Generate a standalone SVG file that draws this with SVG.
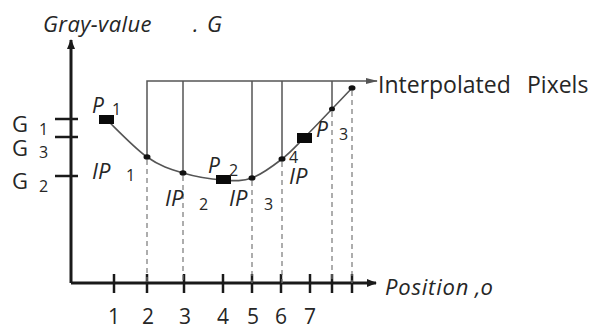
<svg xmlns="http://www.w3.org/2000/svg" width="591" height="329" viewBox="0 0 591 329">
<style>
.t{font-family:"Open Sans","Liberation Sans",sans-serif;fill:#262626}
.i{font-style:italic}
.s{font-size:16px}
.ax{stroke:#1a1a1a;stroke-width:3;fill:none}
.tk{stroke:#1a1a1a;stroke-width:2.5}
.vl{stroke:#555;stroke-width:1.5;fill:none}
.dl{stroke:#777;stroke-width:1.2;stroke-dasharray:5 4;fill:none}
.cv{stroke:#555;stroke-width:1.6;fill:none}
.dot{fill:#111}
.pr{fill:#0a0a0a}
</style>
<defs>
<marker id="ah" markerWidth="10" markerHeight="8" refX="9" refY="4" orient="auto" markerUnits="userSpaceOnUse">
<path d="M0,0 L10,4 L0,8 Z" fill="#1a1a1a"/>
</marker>
<marker id="ah2" markerWidth="12" markerHeight="6" refX="11" refY="3" orient="auto" markerUnits="userSpaceOnUse">
<path d="M0,0 L12,3 L0,6 Z" fill="#555"/>
</marker>
</defs>

<g id="axes">
<path class="ax" d="M71,283 L71,40" marker-end="url(#ah)"/>
<path class="ax" d="M71,283 L376,283" marker-end="url(#ah)"/>
<text class="t i" x="43" y="32" font-size="22" letter-spacing="0.4">Gray-value</text>
<text class="t i" x="193" y="32" font-size="22">.</text>
<text class="t i" x="207" y="32" font-size="22">G</text>
<text class="t i" x="385" y="295" font-size="22" letter-spacing="0.8">Position</text>
<text class="t i" x="475" y="295" font-size="22">,o</text>
</g>

<g id="y-ticks">
<line class="tk" x1="55" y1="119" x2="78" y2="119"/>
<line class="tk" x1="55" y1="137" x2="78" y2="137"/>
<line class="tk" x1="55" y1="176" x2="78" y2="176"/>
<text class="t" x="12" y="132" font-size="22">G</text>
<text class="t s" x="39" y="135">1</text>
<text class="t" x="12" y="156" font-size="22">G</text>
<text class="t s" x="39" y="158">3</text>
<text class="t" x="12" y="189" font-size="22">G</text>
<text class="t s" x="39" y="192">2</text>
</g>

<g id="x-ticks">
<line class="tk" x1="114" y1="274" x2="114" y2="293"/>
<line class="tk" x1="147" y1="274" x2="147" y2="293"/>
<line class="tk" x1="184" y1="274" x2="184" y2="293"/>
<line class="tk" x1="223" y1="274" x2="223" y2="293"/>
<line class="tk" x1="252" y1="274" x2="252" y2="293"/>
<line class="tk" x1="281" y1="274" x2="281" y2="293"/>
<line class="tk" x1="310" y1="274" x2="310" y2="293"/>
<line class="tk" x1="332" y1="274" x2="332" y2="293"/>
<line class="tk" x1="352" y1="274" x2="352" y2="293"/>
<g class="t" font-size="21" text-anchor="middle">
<text x="114" y="324">1</text>
<text x="148" y="324">2</text>
<text x="185" y="324">3</text>
<text x="223" y="324">4</text>
<text x="253" y="324">5</text>
<text x="281" y="324">6</text>
<text x="310" y="324">7</text>
</g>
</g>

<g id="connectors">
<path class="vl" d="M147,157 L147,81 L377,81" marker-end="url(#ah2)"/>
<line class="vl" x1="183" y1="81" x2="183" y2="173"/>
<line class="vl" x1="252" y1="81" x2="252" y2="178"/>
<line class="vl" x1="282" y1="81" x2="282" y2="159"/>
<line class="vl" x1="332" y1="81" x2="332" y2="109"/>
<line class="dl" x1="147" y1="160" x2="147" y2="283"/>
<line class="dl" x1="183" y1="176" x2="183" y2="283"/>
<line class="dl" x1="252" y1="181" x2="252" y2="283"/>
<line class="dl" x1="282" y1="162" x2="282" y2="283"/>
<line class="dl" x1="332" y1="112" x2="332" y2="283" stroke="#444" stroke-width="1.4"/>
<line class="dl" x1="352" y1="91" x2="352" y2="283" stroke="#999" stroke-width="2" stroke-dasharray="3 3"/>
<path class="cv" d="M106,119 C112.8,125.3 134.2,148 147,157 C159.8,166 170.3,169.2 183,173 C195.7,176.8 211.5,179.2 223,180 C234.5,180.8 242.2,181.5 252,178 C261.8,174.5 273.3,165.7 282,159 C290.7,152.3 295.7,146.3 304,138 C312.3,129.7 324,117.3 332,109 C340,100.7 348.7,91.5 352,88"/>
</g>

<g id="IP1"><ellipse class="dot" cx="147" cy="157" rx="3.5" ry="2.8"/>
<text class="t i" x="92" y="179" font-size="22">IP</text><text class="t s" x="126" y="181">1</text></g>
<g id="IP2"><ellipse class="dot" cx="183" cy="173" rx="3.5" ry="2.8"/>
<text class="t i" x="165" y="206" font-size="22">IP</text><text class="t s" x="199" y="210">2</text></g>
<g id="IP3"><ellipse class="dot" cx="252" cy="178" rx="3.5" ry="2.8"/>
<text class="t i" x="229" y="206" font-size="22">IP</text><text class="t s" x="264" y="210">3</text></g>
<g id="IP4"><ellipse class="dot" cx="282" cy="159" rx="3.5" ry="2.8"/>
<text class="t s" x="289" y="163">4</text><text class="t i" x="289" y="184" font-size="22">IP</text></g>
<g id="IP5"><ellipse class="dot" cx="332" cy="109" rx="3" ry="2.5"/></g>
<g id="IP6"><ellipse class="dot" cx="352" cy="88" rx="3.5" ry="2.8"/></g>

<g id="P1"><rect class="pr" x="99" y="115" width="15" height="9"/>
<text class="t i" x="92" y="113" font-size="21">P</text><text class="t s" x="112" y="115">1</text></g>
<g id="P2"><rect class="pr" x="216" y="175" width="15" height="9"/>
<text class="t i" x="208" y="173" font-size="21">P</text><text class="t s" x="229" y="176">2</text></g>
<g id="P3"><rect class="pr" x="297" y="133" width="15" height="10"/>
<text class="t i" x="316" y="137" font-size="21">P</text><text class="t s" x="339" y="140">3</text></g>

<g id="label-interpolated">
<text class="t" x="378" y="93" font-size="23">Interpolated</text>
<text class="t" x="527" y="93" font-size="23">Pixels</text>
</g>
</svg>
